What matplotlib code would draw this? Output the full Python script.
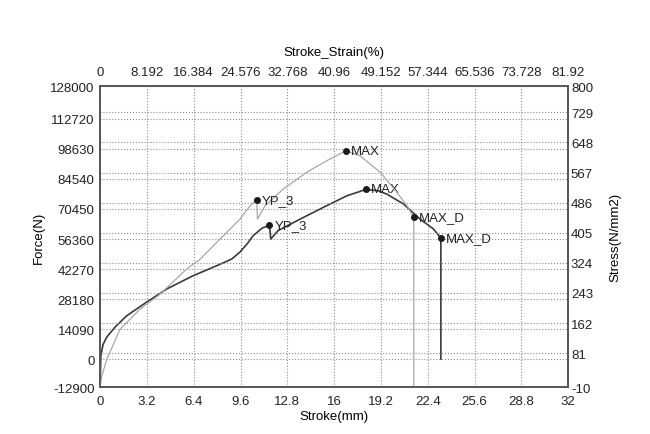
import matplotlib
matplotlib.use("Agg")
import matplotlib.pyplot as plt
import numpy as np

plt.rcParams['font.family'] = ['Liberation Sans', 'DejaVu Sans']

# axis ticks
stroke_ticks = [0, 3.2, 6.4, 9.6, 12.8, 16, 19.2, 22.4, 25.6, 28.8, 32]
strain_labels = ['0', '8.192', '16.384', '24.576', '32.768', '40.96',
                 '49.152', '57.344', '65.536', '73.728', '81.92']
force_ticks = [-12900, 0, 14090, 28180, 42270, 56360, 70450, 84540,
               98630, 112720, 128000]
stress_ticks = [-10, 81, 162, 243, 324, 405, 486, 567, 648, 729, 800]

# dark curve: force (N) vs stroke (mm)
force_x = [0, 0.05, 0.2, 0.46, 1.03, 1.83, 3.19, 4.56, 6.36, 7.98, 9.0,
           9.57, 10.1, 10.46, 11.08, 11.58, 11.67, 12.17, 13.68, 15.50,
           16.87, 18.19, 19.0, 19.60, 20.74, 21.88, 22.79, 23.30, 23.30]
force_y = [-12400, 1600, 7000, 10500, 15200, 20500, 26900, 33000, 39200,
           43900, 47000, 50300, 54500, 57900, 61500, 62800, 56400, 60300,
           65700, 72000, 76600, 79600, 79000, 77400, 72800, 65700, 61100,
           56800, 200]

# light curve: stress (N/mm2) vs stroke (mm)
stress_x = [0, 0.12, 0.46, 1.37, 2.74, 3.99, 5.93, 6.84, 8.2, 9.57, 10.26,
            10.71, 10.76, 11.28, 12.53, 14.13, 15.50, 16.82, 17.78, 19.15,
            20.29, 20.97, 21.45, 21.45]
stress_y = [-8, 20, 65, 146, 200, 236, 308, 334, 388, 442, 478, 494, 442,
            478, 523, 568, 599, 626, 612, 568, 514, 478, 447, -10]

# marked points
force_pts_x = [11.58, 18.19, 23.30]
force_pts_y = [62800, 79600, 56800]
force_pts_lab = ['YP_3', 'MAX', 'MAX_D']
stress_pts_x = [10.71, 16.82, 21.45]
stress_pts_y = [494, 626, 447]
stress_pts_lab = ['YP_3', 'MAX', 'MAX_D']

fig = plt.figure(figsize=(6.5, 4.35), dpi=100)
ax = fig.add_axes([0.154, 0.108, 0.72, 0.692])
ax2 = ax.twinx()

grid_kw = dict(color='#8c8c8c', linestyle=':', linewidth=0.8)

ax.set_xlim(0, 32)
ax.set_ylim(-12900, 128000)
ax.set_xticks(stroke_ticks)
ax.set_xticklabels([f'{t:g}' for t in stroke_ticks])
ax.set_yticks(force_ticks)
ax.set_yticklabels([str(t) for t in force_ticks])
ax.grid(True, **grid_kw)

ax2.set_ylim(-10, 800)
ax2.set_yticks(stress_ticks)
ax2.set_yticklabels([str(t) for t in stress_ticks])
ax2.yaxis.grid(True, **grid_kw)

ax2.plot(stress_x, stress_y, color='#a8a8a8', linewidth=0.9)
ax.plot(force_x, force_y, color='#3a3a3a', linewidth=1.2)

ax2.plot(stress_pts_x, stress_pts_y, 'o', color='#1a1a1a', markersize=4)
for x, y, s in zip(stress_pts_x, stress_pts_y, stress_pts_lab):
    ax2.annotate(s, (x, y), xytext=(3.5, 0), textcoords='offset points',
                 va='center', ha='left', fontsize=9.5, color='#222222')
ax2.plot(force_pts_x, np.interp(force_pts_y, [-12900, 128000], [-10, 800]),
         'o', color='#1a1a1a', markersize=4)
for x, y, s in zip(force_pts_x, force_pts_y, force_pts_lab):
    ax.annotate(s, (x, y), xytext=(3.5, 0), textcoords='offset points',
                va='center', ha='left', fontsize=9.5, color='#222222')

top = ax.secondary_xaxis('top', functions=(lambda v: v * 2.56, lambda v: v / 2.56))
top.set_xticks([t * 2.56 for t in stroke_ticks])
top.set_xticklabels(strain_labels)
top.set_xlabel('Stroke_Strain(%)', fontsize=9.5, labelpad=8)
top.tick_params(length=0, labelsize=9.5, pad=6, colors='#222222')

ax.set_xlabel('Stroke(mm)', fontsize=9.5, labelpad=2)
ax.set_ylabel('Force(N)', fontsize=9.5, labelpad=4)
ax2.set_ylabel('Stress(N/mm2)', fontsize=9.5, labelpad=12)

ax.tick_params(length=0, labelsize=9.5, pad=4, colors='#222222')
ax.tick_params(axis='x', pad=6)
ax2.tick_params(length=0, labelsize=9.5, pad=2, colors='#222222')

for a in (ax, ax2):
    for sp in a.spines.values():
        sp.set_color('#555555')
        sp.set_linewidth(1.2)
top.spines['top'].set_visible(False)

fig.savefig('out.png', dpi=100, facecolor='white')
